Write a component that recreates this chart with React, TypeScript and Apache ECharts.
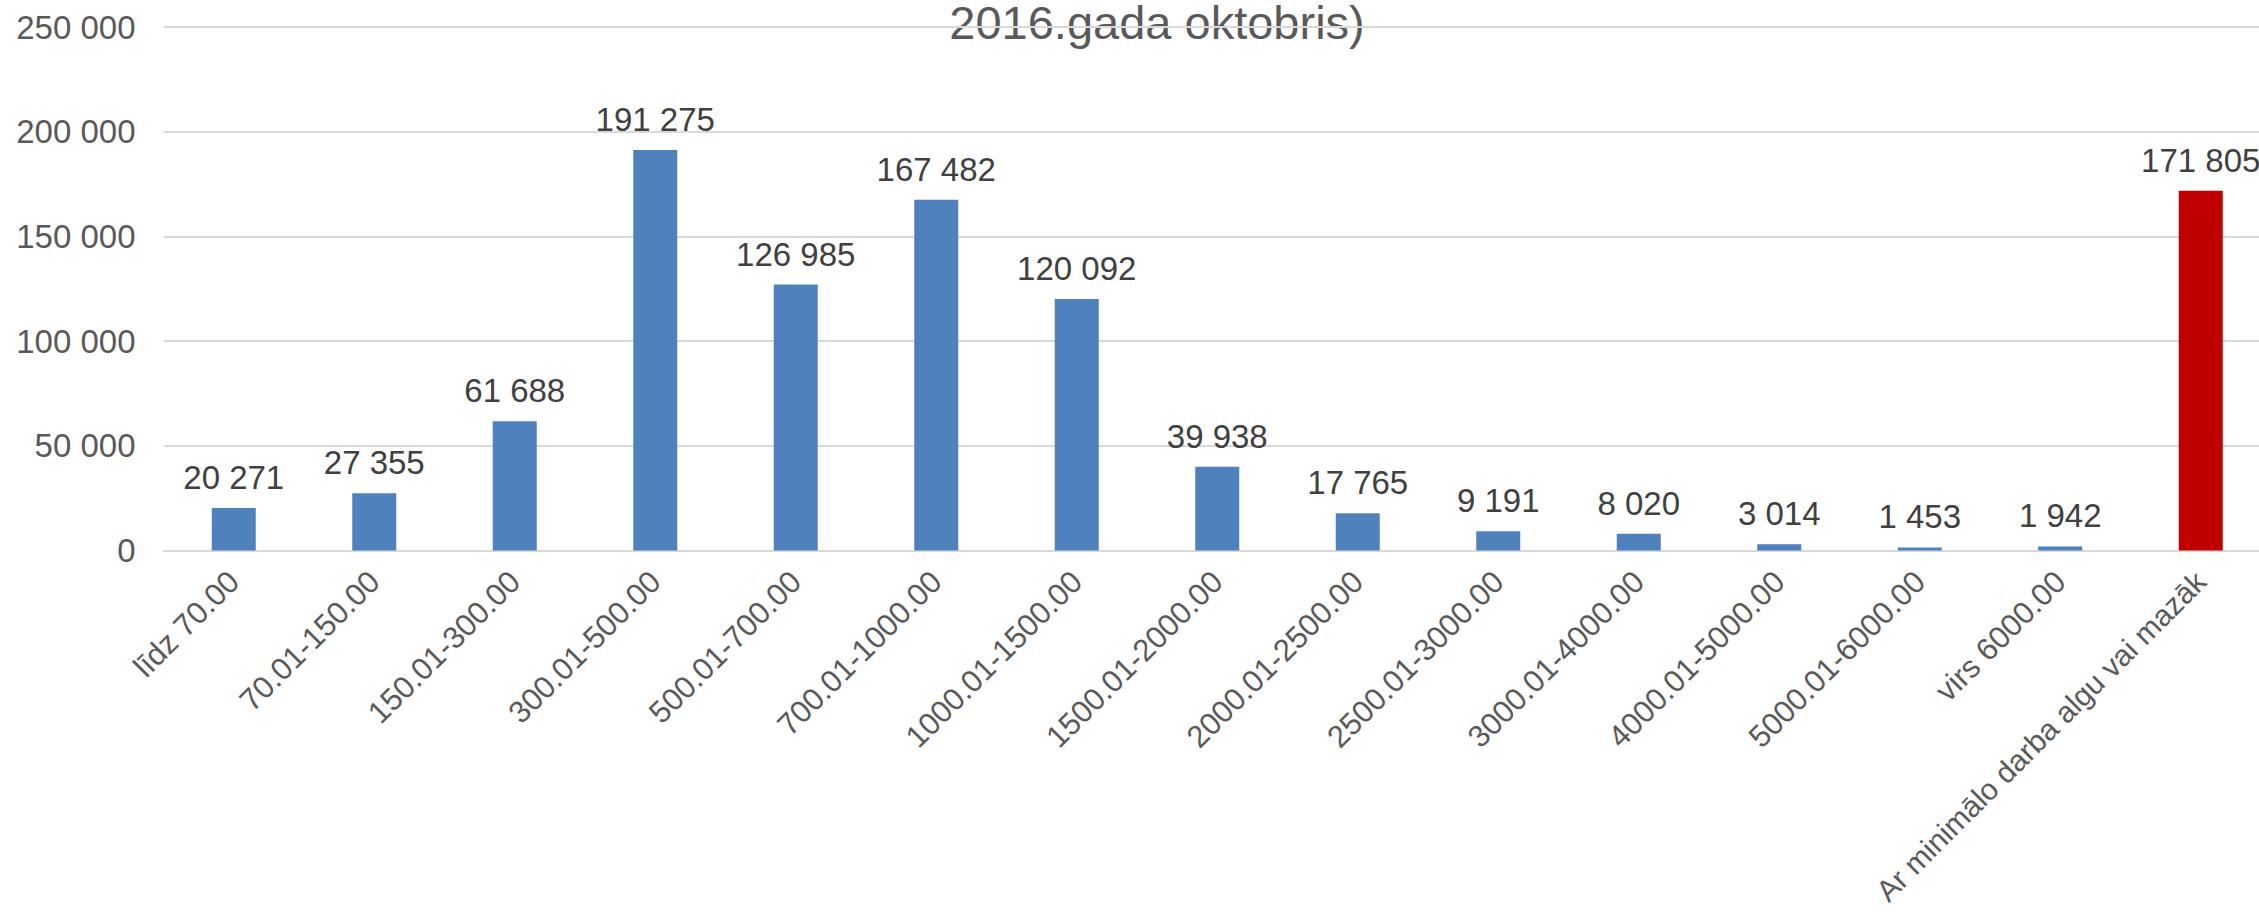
import React, { useEffect, useRef } from "react";
import * as echarts from "echarts";

const categories: string[] = [
  "līdz 70.00",
  "70.01-150.00",
  "150.01-300.00",
  "300.01-500.00",
  "500.01-700.00",
  "700.01-1000.00",
  "1000.01-1500.00",
  "1500.01-2000.00",
  "2000.01-2500.00",
  "2500.01-3000.00",
  "3000.01-4000.00",
  "4000.01-5000.00",
  "5000.01-6000.00",
  "virs 6000.00",
  "Ar minimālo darba algu vai mazāk",
];

const values: number[] = [
  20271, 27355, 61688, 191275, 126985, 167482, 120092, 39938, 17765, 9191, 8020, 3014, 1453, 1942, 171805,
];

const highlighted: boolean[] = [
  false, false, false, false, false, false, false, false, false, false, false, false, false, false, true,
];

const titleText = "2016.gada oktobris)";

const BLUE = "#4f81bd";
const RED = "#c00000";
const FONT = "'Liberation Sans', Arial, sans-serif";

const fmt = (n: number) => String(n).replace(/\B(?=(\d{3})+(?!\d))/g, " ");

export default function App() {
  const ref = useRef<HTMLDivElement>(null);

  useEffect(() => {
    document.body.style.margin = "0";
    if (!ref.current) return;
    const chart = echarts.init(ref.current, undefined, { renderer: "svg" });
    chart.setOption({
      animation: false,
      backgroundColor: "#ffffff",
      textStyle: { fontFamily: FONT },
      graphic: [
        {
          type: "text",
          x: 1157,
          y: 22,
          style: {
            text: titleText,
            fontFamily: FONT,
            fontSize: 47,
            fill: "#595959",
            align: "center",
            verticalAlign: "middle",
          },
        },
      ],
      grid: {
        left: 163.5,
        right: -12,
        top: 27,
        bottom: 362.5,
        containLabel: false,
        outerBoundsMode: "none",
      },
      xAxis: {
        type: "category",
        data: categories.map((c, i) =>
          highlighted[i] ? { value: c, textStyle: { fontSize: 30 } } : c
        ),
        axisLine: { show: true, lineStyle: { color: "#d9d9d9", width: 2 } },
        axisTick: { show: false },
        axisLabel: {
          rotate: 45,
          interval: 0,
          margin: 26,
          color: "#595959",
          fontFamily: FONT,
          fontSize: 31,
        },
      },
      yAxis: {
        type: "value",
        min: 0,
        max: 250000,
        interval: 50000,
        axisLine: { show: false },
        axisTick: { show: false },
        splitLine: { lineStyle: { color: "#d9d9d9", width: 2 } },
        axisLabel: {
          margin: 28,
          color: "#595959",
          fontFamily: FONT,
          fontSize: 33,
          formatter: (v: number) => fmt(v),
        },
      },
      series: [
        {
          type: "bar",
          barWidth: 44,
          data: values.map((v, i) => ({
            value: v,
            itemStyle: { color: highlighted[i] ? RED : BLUE },
          })),
          label: {
            show: true,
            position: "top",
            distance: 14,
            color: "#404040",
            fontFamily: FONT,
            fontSize: 33,
            formatter: (p: any) => fmt(p.value),
          },
        },
      ],
    });
    return () => chart.dispose();
  }, []);

  return <div ref={ref} style={{ width: 2259, height: 913 }} />;
}
